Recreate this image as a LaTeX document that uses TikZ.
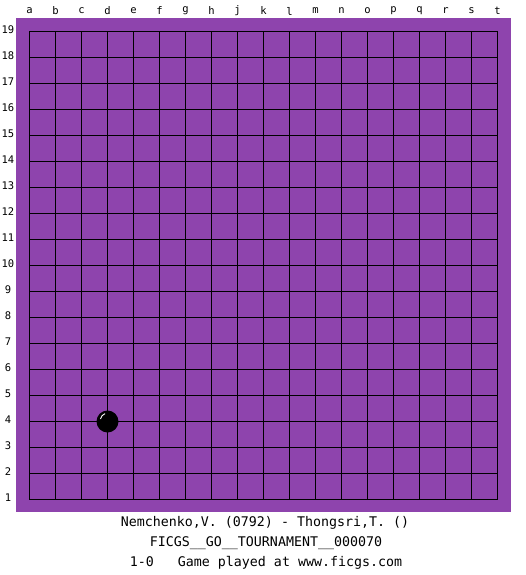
\documentclass[tikz,border=0pt]{standalone}
\usepackage{fontspec}
\setmonofont{DejaVu Sans Mono}
\definecolor{board}{RGB}{142,68,173}
\tikzset{
  coordlabel/.style={font=\fontsize{10.5}{11}\ttfamily, inner sep=0pt},
  infotext/.style={font=\fontsize{13.3}{15}\ttfamily, inner sep=0pt},
}
\begin{document}
\begin{tikzpicture}[x=1pt,y=-1pt]
  \useasboundingbox (0,0) rectangle (525,575);
  \fill[board] (16,18) rectangle (511,512);
  \foreach \i in {0,...,18} {
    \draw[line width=1pt] (29.5+26*\i,31.5) -- (29.5+26*\i,499.5);
    \draw[line width=1pt] (29.5,31.5+26*\i) -- (497.5,31.5+26*\i);
  }
  \foreach \l [count=\i from 0] in {a,b,c,d,e,f,g,h,j,k,l,m,n,o,p,q,r,s,t}
    \node[coordlabel] (col-\l) at (29.5+26*\i,11) {\l};
  \foreach \n in {1,...,19}
    \node[coordlabel] (row-\n) at (8,497.5-26*\n+26) {\n};
  % black stone on d4
  \fill[black] (107.5,421.5) circle (11);
  \draw[white, line width=0.9pt] (100.5,419) arc (190:250:7);
  \node[infotext] (players) at (265,523) {Nemchenko,V. (0792) - Thongsri,T. ()};
  \node[infotext] (event) at (266,543) {FICGS\_\_GO\_\_TOURNAMENT\_\_000070};
  \node[infotext] (result) at (266,563) {1-0\ \ \ Game played at www.ficgs.com};
\end{tikzpicture}
\end{document}
